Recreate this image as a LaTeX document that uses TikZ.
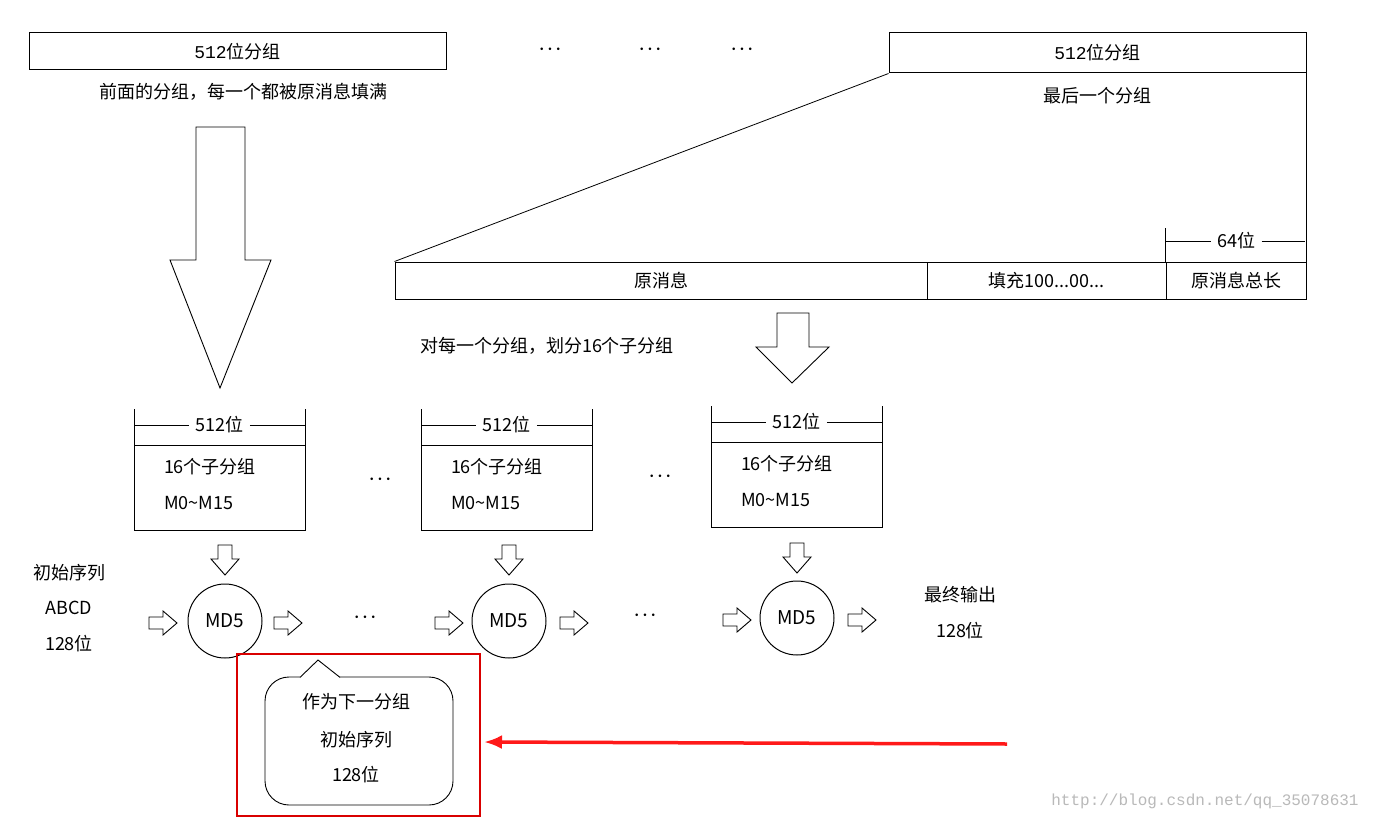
\documentclass[tikz,border=0pt]{standalone}
\usepackage{fontspec}
\usetikzlibrary{arrows.meta}
\setmainfont{Noto Sans CJK SC}
\newfontfamily\monof{Liberation Mono}
\begin{document}
\begin{tikzpicture}[x=1pt,y=-1pt,line width=1pt,
  txt/.style={inner sep=0pt,font=\fontsize{18}{20}\selectfont},
  dots/.style={inner sep=0pt,font=\fontsize{26}{26}\selectfont\bfseries},
  pics/darr/.style={code={\draw[line width=0.9pt] (-7,0)--(7,0)--(7,14)--(14,14)--(0,30)--(-14,14)--(-7,14)--cycle;}},
  pics/rarr/.style={code={\draw[line width=0.9pt] (-14,-6)--(0,-6)--(0,-12)--(14,0)--(0,12)--(0,6)--(-14,6)--cycle;}},
  md/.style={circle,draw,minimum size=74pt,inner sep=0pt,font=\fontsize{19}{20}\selectfont}]
\useasboundingbox[fill=white] (0,0) rectangle (1373,832);
% top boxes
\node[draw,minimum width=417pt,minimum height=37pt,inner sep=0pt,font=\fontsize{18}{20}\selectfont] (b1) at (237.5,51.5) {{\monof 512}位分组};
\node[txt] (t1) at (243,92) {前面的分组，每一个都被原消息填满};
\node[draw,minimum width=417pt,minimum height=40pt,inner sep=0pt,font=\fontsize{18}{20}\selectfont] (b2) at (1097.5,53) {{\monof 512}位分组};
\node[txt] (t2) at (1097,96) {最后一个分组};
\node[dots] (d1) at (550,50) {$\cdot\!\cdot\!\cdot$};
\node[dots] (d2) at (650,50) {$\cdot\!\cdot\!\cdot$};
\node[dots] (d3) at (742,50) {$\cdot\!\cdot\!\cdot$};
% bottom bar
\node[draw,minimum width=532pt,minimum height=37pt,inner sep=0pt] (r1) at (661,280.5) {};
\node[draw,minimum width=239pt,minimum height=37pt,inner sep=0pt] (r2) at (1046.5,280.5) {};
\node[draw,minimum width=140pt,minimum height=37pt,inner sep=0pt] (r3) at (1236,280.5) {};
\node[txt] at (r1) {原消息};
\node[txt] at (r2) {填充100...00...};
\node[txt] at (r3) {原消息总长};
\draw[line width=0.8pt] (b2.south west)--(r1.north west);
\draw[line width=0.8pt] (b2.south east)--(r3.north east);
\node[txt] (l64) at (1236,241) {64位};
\draw[line width=0.8pt] (r3.north west)--++(0,-34);
\draw[line width=0.8pt] (1166,241)--([xshift=-6pt]l64.west);
\draw[line width=0.8pt] ([xshift=6pt]l64.east)--(1305,241);
% big arrow
\draw[line width=0.9pt] (196,127)--(245,127)--(245,260)--(271,260)--(220,388)--(170,260)--(196,260)--cycle;
\draw[line width=0.9pt] (777,313)--(809,313)--(809,347)--(829,347)--(792,383)--(756,347)--(777,347)--cycle;
\node[txt] (t3) at (547,346) {对每一个分组，划分16个子分组};
% three boxes
\foreach \n/\cx/\yt in {1/219.5/409, 2/506.5/409, 3/796.5/406}{
  \node[txt] (h\n) at (\cx,\yt+16) {512位};
  \draw[line width=0.9pt] (\cx-85.5,\yt)--(\cx-85.5,\yt+121)--(\cx+85.5,\yt+121)--(\cx+85.5,\yt);
  \draw[line width=0.9pt] (\cx-85.5,\yt+36)--(\cx+85.5,\yt+36);
  \draw[line width=0.8pt] (\cx-85.5,\yt+16)--([xshift=-6pt]h\n.west);
  \draw[line width=0.8pt] ([xshift=6pt]h\n.east)--(\cx+85.5,\yt+16);
  \node[txt,anchor=west] at (\cx-56,\yt+58) {16个子分组};
  \node[txt,anchor=west] at (\cx-56,\yt+94) {M0\textasciitilde M15};
}
\node[dots] at (380,480) {$\cdot\!\cdot\!\cdot$};
\node[dots] at (660,477) {$\cdot\!\cdot\!\cdot$};
\pic at (225,545) {darr};
\pic at (509,545) {darr};
\pic at (797,543) {darr};
\node[md] (m1) at (225,621) {MD5};
\node[md] (m2) at (509,621) {MD5};
\node[md] (m3) at (797,618) {MD5};
\foreach \x/\y in {163/623,288/623,449/623,574/623,737/620,862/620}{\pic at (\x,\y) {rarr};}
\node[dots] at (365,618) {$\cdot\!\cdot\!\cdot$};
\node[dots] at (645,616) {$\cdot\!\cdot\!\cdot$};
\node[txt] at (69,573) {初始序列};
\node[txt] at (69,608) {ABCD};
\node[txt] at (69,644) {128位};
\node[txt] at (960,595) {最终输出};
\node[txt] at (960,631) {128位};
% callout
\draw[line width=0.9pt,rounded corners=24pt] (300,677)--(265,677)--(265,805)--(453,805)--(453,677)--(340,677);
\draw[line width=0.9pt] (300,677.4)--(318,660)--(340,677.4);
\node[txt] at (356,702) {作为下一分组};
\node[txt] at (356,740) {初始序列};
\node[txt] at (356,775) {128位};
\draw[red!85!black,line width=2.5pt] (237,654) rectangle (480,816);
\coordinate (ra) at (1007,744);
\coordinate (rb) at (484,742);
\draw[red!90!white,line width=3.5pt,-{Latex[length=18pt,width=14pt]}] (ra)--(rb);
\node[inner sep=0pt,text=gray!55,font=\monof\fontsize{16}{18}\selectfont] at (1205,801) {http://blog.csdn.net/qq\_35078631};
\end{tikzpicture}
\end{document}
